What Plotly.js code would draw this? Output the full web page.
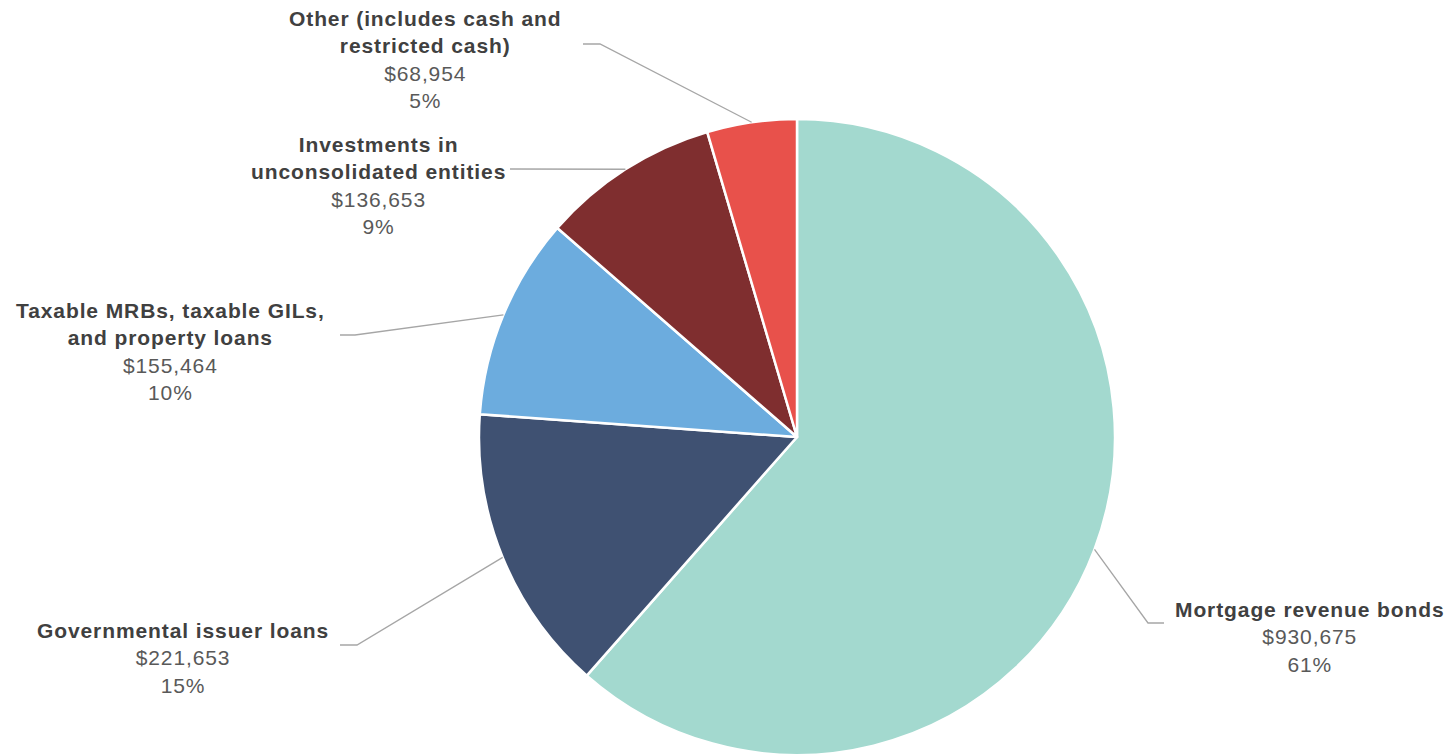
<!DOCTYPE html>
<html>
<head>
<meta charset="utf-8">
<script src="https://cdn.plot.ly/plotly-3.0.1.min.js"></script>
<style>
html,body{margin:0;padding:0;background:#fff;}
#chart{width:1454px;height:755px;}
text{letter-spacing:0.9px;}
</style>
</head>
<body>
<div id="chart"></div>
<script>
// ---- data ----
const categories = [
  "Mortgage revenue bonds",
  "Governmental issuer loans",
  "Taxable MRBs, taxable GILs,<br>and property loans",
  "Investments in<br>unconsolidated entities",
  "Other (includes cash and<br>restricted cash)"
];
const values = [930675, 221653, 155464, 136653, 68954];
const colors = ["#A3D9CF", "#3F5172", "#6CACDE", "#7F2E2F", "#E8514B"];

// ---- layout positions (pixels) ----
const W = 1454, H = 755;
const cx = 797, cy = 437, R = 318;
// label block centres
const labelPos = [[1310, 637], [183, 658], [170, 351], [378, 185], [425, 59]];
// leader line knee and end points
const leaderKnee = [[1148, 623], [357, 645], [355, 335], [510, 169], [600, 44]];
const leaderEnd  = [[1164, 623], [340, 645], [340, 335], [510, 169], [583, 44]];

const px = x => x / W;
const py = y => 1 - y / H;

const total = values.reduce((a, b) => a + b, 0);
const fmt = v => "$" + v.toLocaleString("en-US");

const annotations = [];
const shapes = [];
let cum = 0;
values.forEach((v, i) => {
  const mid = (cum + v / 2) / total * 2 * Math.PI; // clockwise from top
  cum += v;
  const ex = cx + R * Math.sin(mid);
  const ey = cy - R * Math.cos(mid);
  const pct = Math.round(v / total * 100) + "%";
  annotations.push({
    xref: "paper", yref: "paper",
    x: px(labelPos[i][0]), y: py(labelPos[i][1]),
    xanchor: "center", yanchor: "middle", showarrow: false, align: "center",
    font: {family: "Liberation Sans, Arial, sans-serif", size: 21, color: "#595959"},
    text: "<b><span style='color:#404040'>" + categories[i] + "</span></b><br>" + fmt(v) + "<br>" + pct
  });
  shapes.push({
    type: "path", xref: "paper", yref: "paper",
    path: "M " + px(ex) + "," + py(ey) + " L " + px(leaderKnee[i][0]) + "," + py(leaderKnee[i][1]) +
          " L " + px(leaderEnd[i][0]) + "," + py(leaderEnd[i][1]),
    line: {color: "#A6A6A6", width: 1.3}
  });
});

const trace = {
  type: "pie",
  labels: categories,
  values: values,
  marker: {colors: colors, line: {color: "#FFFFFF", width: 2.5}},
  sort: false,
  direction: "clockwise",
  rotation: 0,
  textinfo: "none",
  hoverinfo: "skip",
  showlegend: false,
  domain: {x: [px(cx - R), px(cx + R)], y: [0, py(cy - R)]}
};

const layout = {
  width: W, height: H,
  margin: {l: 0, r: 0, t: 0, b: 0},
  paper_bgcolor: "#FFFFFF",
  showlegend: false,
  annotations: annotations,
  shapes: shapes
};

Plotly.newPlot("chart", [trace], layout, {displayModeBar: false, staticPlot: true});
</script>
</body>
</html>
